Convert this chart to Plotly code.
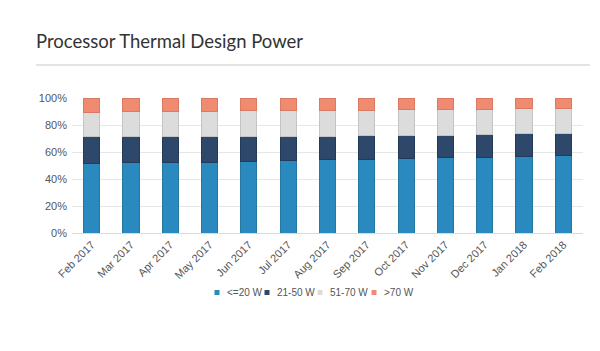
import plotly.graph_objects as go

months = ["Feb 2017", "Mar 2017", "Apr 2017", "May 2017", "Jun 2017", "Jul 2017",
          "Aug 2017", "Sep 2017", "Oct 2017", "Nov 2017", "Dec 2017", "Jan 2018", "Feb 2018"]
le20 = [51.6, 52.3, 52.3, 52.3, 52.8, 53.6, 54.3, 54.8, 55.3, 55.8, 55.8, 56.5, 57.3]
w21_50 = [20.0, 19.3, 19.3, 19.3, 18.8, 18.0, 17.3, 17.5, 17.0, 16.3, 17.3, 17.1, 16.3]
w51_70 = [17.8, 18.3, 18.3, 18.3, 19.0, 19.0, 19.5, 18.8, 19.3, 19.5, 18.5, 18.3, 18.8]
gt70 = [10.6, 10.1, 10.1, 10.1, 9.4, 9.4, 8.9, 8.9, 8.4, 8.4, 8.4, 8.1, 7.6]

series_names = ["<=20 W", "21-50 W", "51-70 W", ">70 W"]
series_values = [le20, w21_50, w51_70, gt70]
fill_colors = ["#2a89bf", "#2e486c", "#dcdcdc", "#f08a70"]
line_colors = ["#24779f", "#243a58", "#c4c4c4", "#d97a62"]

# plot area geometry (px)
L, R, T, B = 72, 17, 98, 118
W, H = 600, 351
PW, PH = W - L - R, H - T - B


def px_x(px):
    return (px - L) / PW


def px_y(py):
    return (H - B - py) / PH


fig = go.Figure()
for name, vals, col, lcol in zip(series_names, series_values, fill_colors, line_colors):
    fig.add_trace(go.Bar(x=months, y=vals, name=name, showlegend=False,
                         marker=dict(color=col, line=dict(color=lcol, width=1))))

# compact legend, drawn as squares + labels
shapes = [dict(type="line", xref="paper", yref="paper",
               x0=px_x(36), x1=px_x(590), y0=px_y(65), y1=px_y(65),
               line=dict(color="#c8c8c8", width=1))]
annotations = []
leg_sq_x = [214.5, 264.5, 317.5, 371.5]
leg_y = 292.5
for name, col, sx in zip(series_names, fill_colors, leg_sq_x):
    shapes.append(dict(type="rect", xref="paper", yref="paper",
                       x0=px_x(sx), x1=px_x(sx + 5), y0=px_y(leg_y + 2.5), y1=px_y(leg_y - 2.5),
                       fillcolor=col, line=dict(width=0)))
    annotations.append(dict(text=name, xref="paper", yref="paper", x=px_x(sx + 10), y=px_y(leg_y),
                            xanchor="left", yanchor="middle", showarrow=False,
                            font=dict(family="Liberation Sans, Arial, sans-serif", size=10, color="#555555")))

fig.update_layout(
    barmode="stack",
    bargap=0.59,
    width=W, height=H,
    margin=dict(l=L, r=R, t=T, b=B),
    paper_bgcolor="white", plot_bgcolor="white",
    showlegend=False,
    font=dict(family="Liberation Sans, Arial, sans-serif", size=11, color="#555555"),
    title=dict(text="Processor Thermal Design Power", xref="container", yref="container",
               x=36/600, xanchor="left", y=1-42/351, yanchor="middle",
               font=dict(family="Lato", size=18.5, color="#333333")),
    xaxis=dict(tickangle=-45, showgrid=False, showline=True, linecolor="#d9d9d9",
               ticks="", tickfont=dict(size=11, color="#555555")),
    yaxis=dict(range=[0, 100], dtick=20, ticksuffix="%", showgrid=True,
               gridcolor="#e6e6e6", zeroline=False, ticks="", ticklabelstandoff=4,
               tickfont=dict(size=11, color="#555555")),
    shapes=shapes,
    annotations=annotations,
)

fig.write_html("out.html")
